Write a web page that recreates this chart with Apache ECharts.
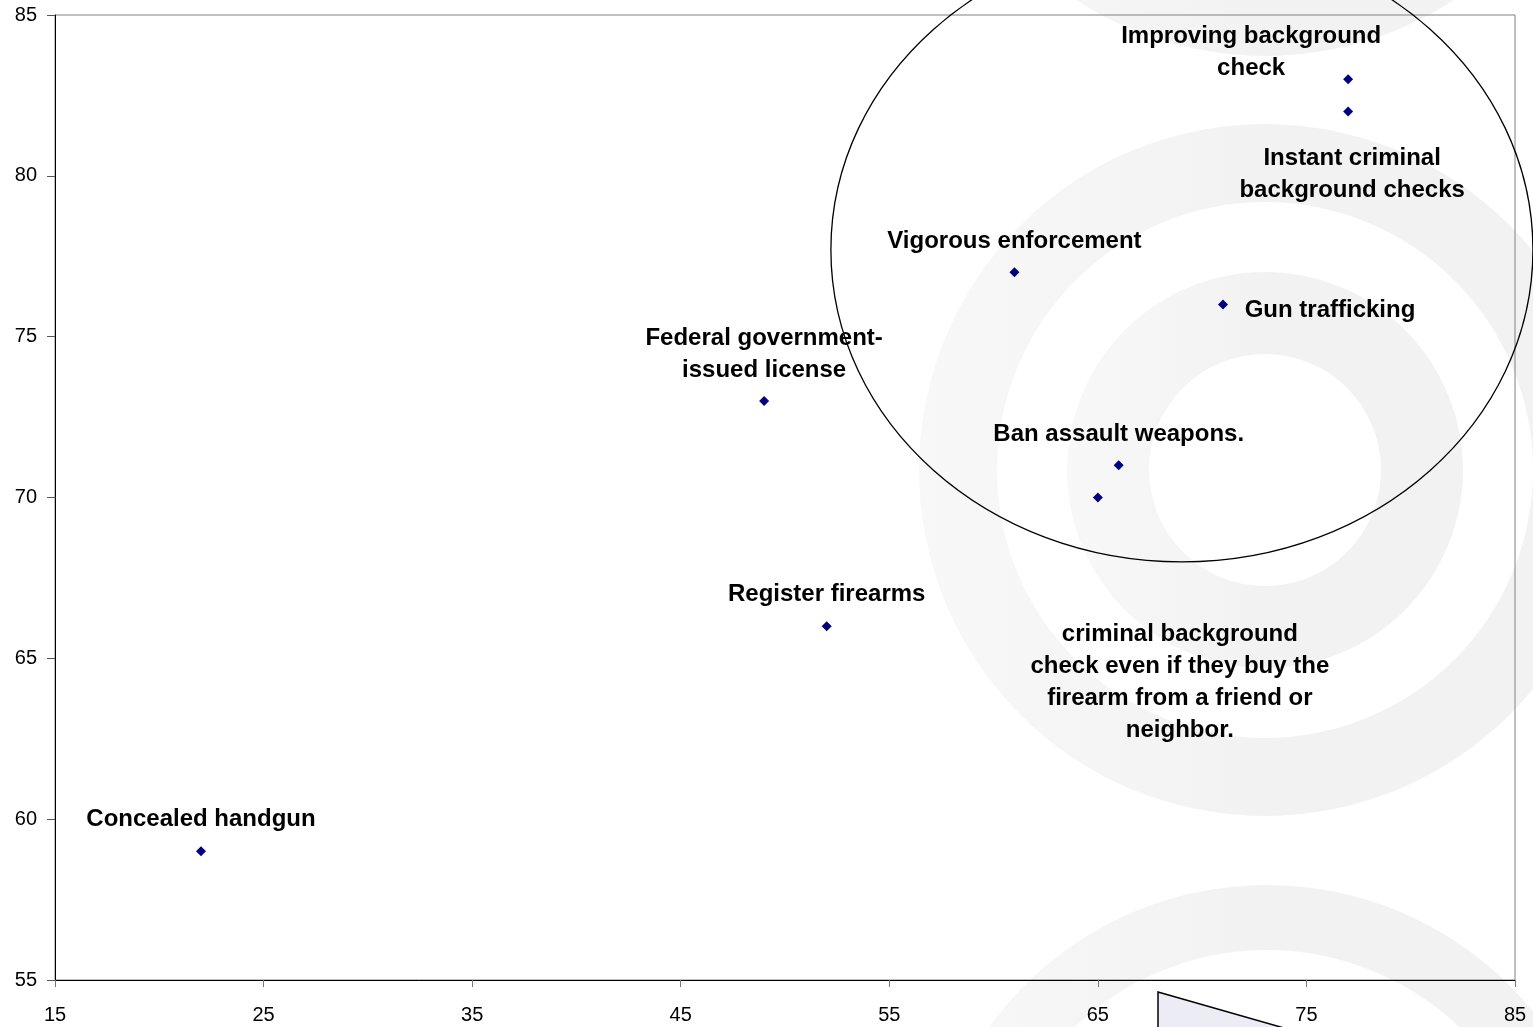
<!DOCTYPE html>
<html>
<head>
<meta charset="utf-8">
<script src="https://cdn.jsdelivr.net/npm/echarts@6/dist/echarts.min.js"></script>
<style>
html,body{margin:0;padding:0;background:#fff;}
#chart{width:1533px;height:1027px;}
</style>
</head>
<body>
<div id="chart"></div>
<script>
// ---- data ----
const pointNames = [
  'Concealed handgun',
  'Federal government-\nissued license',
  'Register firearms',
  'Vigorous enforcement',
  'Gun trafficking',
  'Ban assault weapons.',
  'criminal background\ncheck even if they buy the\nfirearm from a friend or\nneighbor.',
  'Improving background\ncheck',
  'Instant criminal\nbackground checks'
];
const xValues = [22, 49, 52, 61, 71, 66, 65, 77, 77];
const yValues = [59, 73, 66, 77, 76, 71, 70, 83, 82];
const xTicks = {min: 15, max: 85, interval: 10};
const yTicks = {min: 55, max: 85, interval: 5};

// ---- label placement (style, not data) ----
const labelOffsets = [
  [0, -32], [0, -47], [0, -32], [0, -31], [107, 6],
  [0, -31], [82, 185], [-97, -27], [4, 63]
];
// annotation ellipse in data units
const ellipseCenter = [69.03, 77.7];
const ellipseRadii = [16.83, 9.7];

const chart = echarts.init(document.getElementById('chart'));
const seriesData = xValues.map((x, i) => ({
  name: pointNames[i],
  value: [x, yValues[i]],
  label: {offset: labelOffsets[i]}
}));

const FONT = '"Liberation Sans", Arial, sans-serif';

chart.setOption({
  animation: false,
  backgroundColor: '#ffffff',
  grid: {left: 55, top: 15, right: 18, bottom: 47, show: true, borderColor: '#808080', borderWidth: 1, backgroundColor: 'transparent', containLabel: false},
  xAxis: {
    type: 'value', min: xTicks.min, max: xTicks.max, interval: xTicks.interval,
    axisLine: {show: true, onZero: false, lineStyle: {color: '#000', width: 1}},
    axisTick: {show: true, length: 7, lineStyle: {color: '#777'}},
    axisLabel: {color: '#000', fontSize: 20, fontFamily: FONT, margin: 25},
    splitLine: {show: false}
  },
  yAxis: {
    type: 'value', min: yTicks.min, max: yTicks.max, interval: yTicks.interval,
    axisLine: {show: true, onZero: false, lineStyle: {color: '#000', width: 1}},
    axisTick: {show: true, length: 8, lineStyle: {color: '#555'}},
    axisLabel: {color: '#000', fontSize: 20, fontFamily: FONT, margin: 18},
    splitLine: {show: false}
  },
  series: [{
    type: 'scatter',
    symbol: 'diamond',
    symbolSize: 10,
    itemStyle: {color: '#000080', opacity: 1},
    emphasis: {disabled: true},
    data: seriesData,
    label: {
      show: true,
      position: 'inside',
      formatter: p => p.name,
      color: '#000',
      fontSize: 24,
      fontWeight: 'bold',
      fontFamily: FONT,
      lineHeight: 32,
      align: 'center',
      verticalAlign: 'middle'
    },
    z: 5
  }]
});

function drawAnnotations() {
  const c = chart.convertToPixel({gridIndex: 0}, ellipseCenter);
  const e = chart.convertToPixel({gridIndex: 0}, [ellipseCenter[0] + ellipseRadii[0], ellipseCenter[1] - ellipseRadii[1]]);
  const rx = e[0] - c[0], ry = e[1] - c[1];
  const ringFill = new echarts.graphic.LinearGradient(0, 0, 1, 0, [
    {offset: 0, color: '#f8f8f8'},
    {offset: 0.5, color: '#f2f2f2'},
    {offset: 1, color: '#f2f2f2'}
  ]);
  const wm = [];
  // watermark: repeated sets of concentric rings
  [-290, 470].forEach(cy => {
    [[116, 198], [268, 346]].forEach(r => {
      wm.push({type: 'ring', z: -100, silent: true, shape: {cx: 1265, cy: cy, r0: r[0], r: r[1]}, style: {fill: ringFill}});
    });
  });
  wm.push({type: 'ring', z: -100, silent: true, shape: {cx: 1267, cy: 1228, r0: 278, r: 343}, style: {fill: ringFill}});
  chart.setOption({
    graphic: {
      elements: wm.concat([
        {type: 'ellipse', z: 50, silent: true, shape: {cx: c[0], cy: c[1], rx: rx, ry: ry}, style: {fill: 'none', stroke: '#000', lineWidth: 1.3}},
        {type: 'polygon', z: 50, silent: true, shape: {points: [[1158, 992], [1305, 1034], [1158, 1034]]}, style: {fill: '#ececf4', stroke: '#000', lineWidth: 1.5}}
      ])
    }
  });
}
drawAnnotations();
</script>
</body>
</html>
